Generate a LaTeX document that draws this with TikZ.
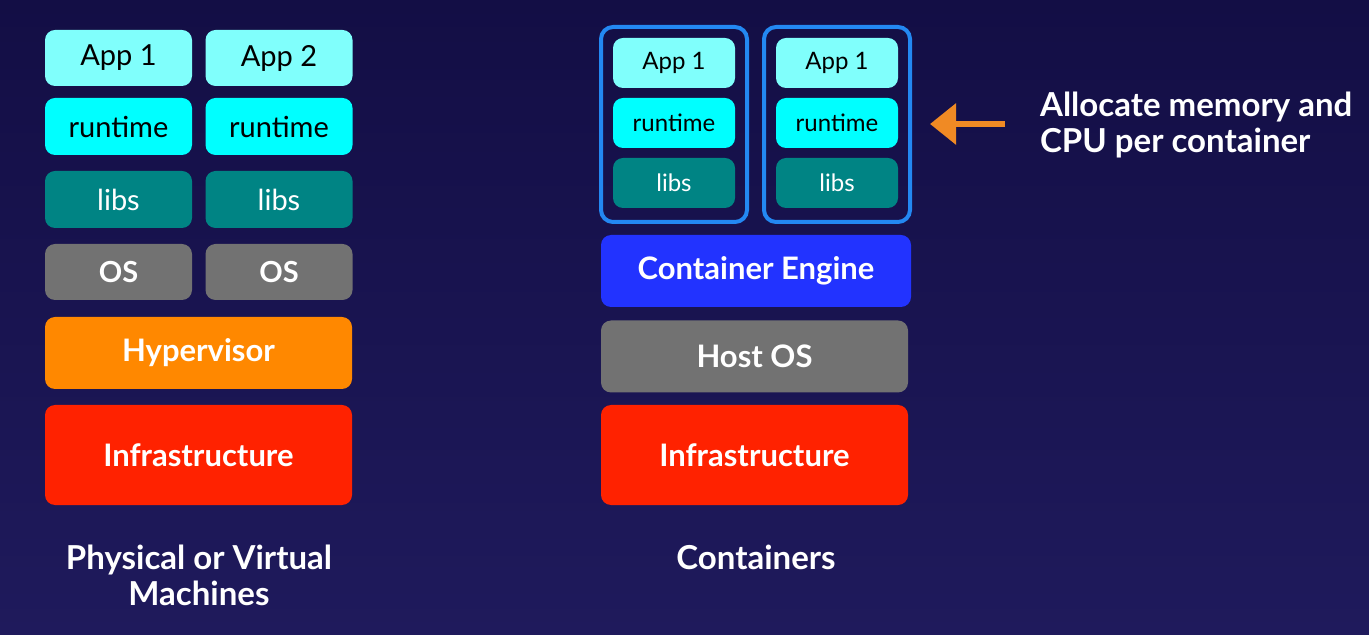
\documentclass[tikz,border=0pt]{standalone}
\usepackage{fontspec}
\setmainfont{Lato}
\usetikzlibrary{arrows.meta}
\definecolor{bgtop}{HTML}{130E45}
\definecolor{bgbot}{HTML}{1F1A5C}
\definecolor{appc}{HTML}{80FFFC}
\definecolor{runc}{HTML}{00FFFF}
\definecolor{libc}{HTML}{008484}
\definecolor{osc}{HTML}{727272}
\definecolor{hypc}{HTML}{FF8800}
\definecolor{infc}{HTML}{FF2200}
\definecolor{engc}{HTML}{2233FF}
\definecolor{framec}{HTML}{2388F2}
\definecolor{arrc}{HTML}{F08A24}
\tikzstyle{layer}=[rounded corners=5pt, inner sep=0pt, draw=none]
\tikzstyle{small}=[layer, minimum width=73.5pt, minimum height=28pt, font=\fontsize{14.5}{16}\selectfont]
\tikzstyle{tiny}=[layer, minimum width=61pt, minimum height=25pt, font=\fontsize{12}{14}\selectfont]
\tikzstyle{wide}=[layer, minimum width=153.5pt, text=white, font=\fontsize{15.5}{17}\selectfont\bfseries]
\tikzstyle{caption}=[text=white, align=center, font=\fontsize{16.5}{18}\selectfont\bfseries]

\begin{document}
\begin{tikzpicture}[x=0.5pt, y=-0.5pt]

      \shade[top color=bgtop, bottom color=bgbot] (0,0) rectangle (1369,635);
      \useasboundingbox (0,0) rectangle (1369,635);

      % virtual machines
      \node[small, fill=appc] (app1) at (118.5,58) {App 1};
      \node[small, fill=appc] (app2) at (279,58) {App 2};
      \node[small, fill=runc, minimum height=28.5pt] (run1) at (118.5,126.5) {runtime};
      \node[small, fill=runc, minimum height=28.5pt] (run2) at (279,126.5) {runtime};
      \node[small, fill=libc, text=white, minimum height=28.5pt] (libs1) at (118.5,199.5) {libs};
      \node[small, fill=libc, text=white, minimum height=28.5pt] (libs2) at (279,199.5) {libs};
      \node[small, fill=osc, text=white, font=\fontsize{14.5}{16}\selectfont\bfseries] (os1) at (118.5,272) {OS};
      \node[small, fill=osc, text=white, font=\fontsize{14.5}{16}\selectfont\bfseries] (os2) at (279,272) {OS};

      \node[wide, fill=hypc, minimum height=36pt] (hyp) at (198.5,353) {Hypervisor};
      \node[wide, fill=infc, minimum height=50pt] (infra1) at (198.5,455) {Infrastructure};

      \node[caption] (vmlabel) at (199,575) {Physical or Virtual\\Machines};

      % containers
      \foreach \c/\x in {c1/674, c2/837} {
        \node[layer, draw=framec, line width=2pt, rounded corners=6pt,
              minimum width=73pt, minimum height=97.5pt] (\c) at (\x,124.5) {};
        \node[tiny, fill=appc] (\c app) at (\x,63) {App 1};
        \node[tiny, fill=runc] (\c run) at (\x,123) {runtime};
        \node[tiny, fill=libc, text=white] (\c libs) at (\x,183) {libs};
      }

      \node[wide, fill=engc, minimum width=155pt, minimum height=36pt] (engine) at (756,271) {Container Engine};
      \node[wide, fill=osc, minimum height=36pt] (hostos) at (754.5,356.5) {Host OS};
      \node[wide, fill=infc, minimum height=50pt] (infra2) at (754.5,455) {Infrastructure};

      \node[caption] (ctlabel) at (756,557) {Containers};

      % note
      \coordinate (tail) at (1005,124);
      \coordinate (tip) at (930,124);
      \draw[arrc, line width=3pt, -{Triangle[width=20pt, length=13pt]}] (tail) -- (tip);
      \node[anchor=west, text=white, align=left,
            font=\fontsize{16.5}{18}\selectfont\bfseries] (note) at (1033,125)
            {Allocate memory and\\CPU per container};

    \end{tikzpicture}
\end{document}
